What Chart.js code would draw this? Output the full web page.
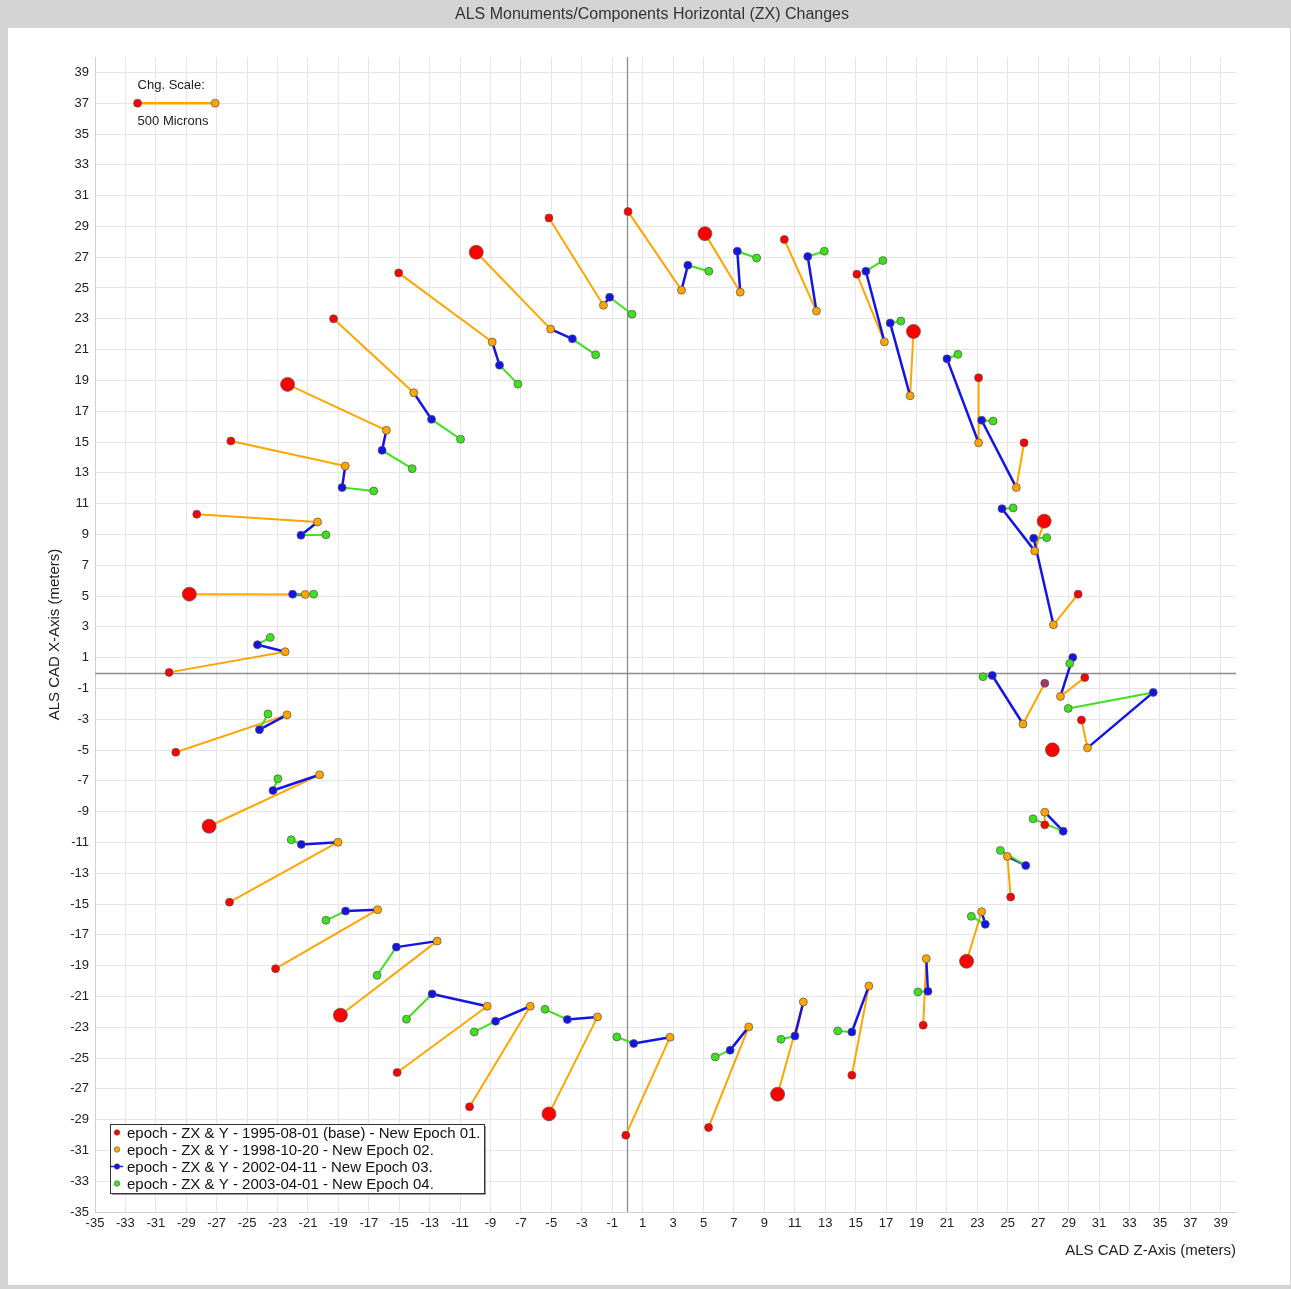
<!DOCTYPE html>
<html>
<head>
<meta charset="utf-8">
<title>ALS Monuments/Components Horizontal (ZX) Changes</title>
<script src="https://cdn.jsdelivr.net/npm/chart.js@4.4.0/dist/chart.umd.min.js"></script>
<style>
  html, body { margin: 0; padding: 0; background: #d4d4d4; }
  #wrap { position: relative; width: 1291px; height: 1289px; }
</style>
</head>
<body>
<div id="wrap"><canvas id="zxChart" width="1291" height="1289"></canvas></div>
<script>
// ======================== DATA ========================
// each entry = [Z (m), X (m)], one row per monument, same order in every epoch

const epoch01 = [
  [-30.13, 0.04], [-28.80, 5.12], [-28.31, 10.31], [-26.07, 15.06], [-22.34, 18.74],
  [-19.32, 23.00], [-15.04, 25.98], [-9.94, 27.32], [-5.16, 29.55], [0.04, 29.96],
  [5.09, 28.53], [10.31, 28.15], [15.08, 25.90], [18.80, 22.18], [23.08, 19.17],
  [26.07, 14.95], [27.39, 9.86], [29.62, 5.12], [30.06, -0.30], [27.43, -0.67],
  [29.84, -3.05], [27.93, -4.99], [27.43, -9.86], [25.19, -14.55], [22.29, -18.72],
  [19.44, -22.87], [14.75, -26.12], [9.87, -27.35], [5.33, -29.51], [-0.11, -30.01],
  [-5.16, -28.63], [-10.38, -28.17], [-15.14, -25.94], [-18.87, -22.22], [-23.13, -19.20],
  [-26.16, -14.88], [-27.50, -9.95], [-29.69, -5.15]
];

const epoch02 = [
  [-22.50, 1.38], [-21.18, 5.10], [-20.37, 9.81], [-18.55, 13.44], [-15.85, 15.76],
  [-14.05, 18.20], [-8.89, 21.49], [-5.05, 22.33], [-1.58, 23.88], [3.55, 24.86],
  [7.41, 24.73], [12.42, 23.50], [16.89, 21.50], [18.58, 18.00], [23.08, 14.95],
  [25.56, 12.04], [26.77, 7.93], [28.00, 3.13], [28.46, -1.52], [26.00, -3.31],
  [30.24, -4.86], null, [27.43, -9.04], [24.97, -11.91], [23.28, -15.50],
  [19.64, -18.55], [15.87, -20.32], [11.56, -21.36], [7.97, -22.98], [2.80, -23.65],
  [-1.97, -22.33], [-6.39, -21.64], [-9.22, -21.64], [-12.51, -17.41], [-16.42, -15.37],
  [-19.03, -10.99], [-20.24, -6.61], [-22.38, -2.72]
];

const epoch03 = [
  [-24.32, 1.84], [-22.01, 5.12], [-21.46, 8.95], [-18.76, 12.04], [-16.13, 14.46],
  [-12.88, 16.47], [-8.41, 19.99], [-3.62, 21.70], [-1.17, 24.40], [3.97, 26.48],
  [7.22, 27.39], [11.85, 27.04], [15.67, 26.09], [17.27, 22.72], [21.00, 20.40],
  [23.28, 16.41], [24.62, 10.67], [26.70, 8.75], [29.27, 1.01], [23.98, -0.16],
  [34.56, -1.26], null, [28.64, -10.27], [26.18, -12.50], [23.52, -16.32],
  [19.75, -20.67], [14.75, -23.31], [11.01, -23.57], [6.75, -24.49], [0.41, -24.06],
  [-3.95, -22.50], [-8.67, -22.61], [-12.84, -20.84], [-15.19, -17.80], [-18.53, -15.46],
  [-21.44, -11.13], [-23.30, -7.63], [-24.19, -3.68]
];

const epoch04 = [
  [-23.48, 2.31], [-20.63, 5.12], [-19.82, 8.97], [-16.68, 11.82], [-14.15, 13.27],
  [-10.97, 15.18], [-7.20, 18.76], [-2.09, 20.66], [0.30, 23.30], [5.35, 26.09],
  [8.49, 26.95], [12.94, 27.39], [16.79, 26.78], [17.97, 22.85], [21.72, 20.69],
  [24.03, 16.36], [25.35, 10.72], [27.56, 8.79], [29.07, 0.62], [23.37, -0.24],
  [28.97, -2.30], null, [26.66, -9.47], [24.51, -11.52], [22.60, -15.80],
  [19.09, -20.71], [13.82, -23.24], [10.09, -23.78], [5.77, -24.93], [-0.70, -23.63],
  [-5.42, -21.84], [-10.07, -23.31], [-14.53, -22.48], [-16.46, -19.63], [-19.82, -16.06],
  [-22.10, -10.83], [-22.98, -6.87], [-23.63, -2.66]
];

// monuments drawn with the large base marker
const majorMonuments = [1, 4, 7, 10, 13, 16, 21, 24, 27, 30, 33, 36];
// base marker partly hidden (shows darker)
const shadedBase = [19];

// change scale key (top left)
const scaleBar = [[-32.2, 37], [-27.1, 37]];
const scaleLabels = ["Chg. Scale:", "500 Microns"];

const zTicks = [-35, -33, -31, -29, -27, -25, -23, -21, -19, -17, -15, -13, -11, -9, -7, -5, -3, -1,
  1, 3, 5, 7, 9, 11, 13, 15, 17, 19, 21, 23, 25, 27, 29, 31, 33, 35, 37, 39];
const xTicks = [-35, -33, -31, -29, -27, -25, -23, -21, -19, -17, -15, -13, -11, -9, -7, -5, -3, -1,
  1, 3, 5, 7, 9, 11, 13, 15, 17, 19, 21, 23, 25, 27, 29, 31, 33, 35, 37, 39];

const legendLabels = [
  "epoch - ZX & Y - 1995-08-01 (base) - New Epoch 01.",
  "epoch - ZX & Y - 1998-10-20 - New Epoch 02.",
  "epoch - ZX & Y - 2002-04-11 - New Epoch 03.",
  "epoch - ZX & Y - 2003-04-01 - New Epoch 04."
];

const chartTitle = "ALS Monuments/Components Horizontal (ZX) Changes";

// ======================== STYLE ========================

const FONT = "'Liberation Sans', Arial, sans-serif";
const RED = "#ff0000";
const ORANGE = "#ffa500";
const BLUE = "#1414e6";
const GREEN = "#3fe01e";
const EDGE = "#555555";

// ======================== HELPERS ========================

function toPoints(arr) {
  return arr.map((p) => (p ? { x: p[0], y: p[1] } : { x: null, y: null }));
}

// pairs of points split by gaps, so one dataset draws many short segments
function segments(from, to) {
  const pts = [];
  from.forEach((p, i) => {
    const q = to[i];
    if (!p || !q) return;
    pts.push({ x: p[0], y: p[1] }, { x: q[0], y: q[1] }, { x: null, y: null });
  });
  return pts;
}

// ======================== PLUGINS ========================

const framePlugin = {
  id: "frame",
  beforeDraw(chart) {
    const { ctx, width, height } = chart;
    ctx.save();
    ctx.fillStyle = "#d4d4d4";
    ctx.fillRect(0, 0, width, height);
    ctx.fillStyle = "#ffffff";
    ctx.fillRect(8, 28, width - 9, height - 32);
    ctx.fillStyle = "#333333";
    ctx.font = "16px " + FONT;
    ctx.textAlign = "center";
    ctx.textBaseline = "middle";
    ctx.fillText(chartTitle, 652, 15);
    ctx.restore();
  },
  beforeDatasetsDraw(chart) {
    // zero lines
    const { ctx, chartArea, scales } = chart;
    const px = Math.round(scales.x.getPixelForValue(0)) + 0.5;
    const py = Math.round(scales.y.getPixelForValue(0)) + 0.5;
    ctx.save();
    ctx.strokeStyle = "#8c8c8c";
    ctx.lineWidth = 1.3;
    ctx.beginPath();
    ctx.moveTo(px, chartArea.top);
    ctx.lineTo(px, chartArea.bottom);
    ctx.moveTo(chartArea.left, py);
    ctx.lineTo(chartArea.right, py);
    ctx.stroke();
    ctx.restore();
  },
  afterDraw(chart) {
    const { ctx, chartArea, scales } = chart;
    ctx.save();

    // scale key texts
    const sx = scales.x.getPixelForValue(scaleBar[0][0]);
    const sy = scales.y.getPixelForValue(scaleBar[0][1]);
    ctx.fillStyle = "#222";
    ctx.font = "13px " + FONT;
    ctx.textAlign = "left";
    ctx.textBaseline = "middle";
    ctx.fillText(scaleLabels[0], sx, sy - 18);
    ctx.fillText(scaleLabels[1], sx, sy + 18);

    // legend box
    const bx = chartArea.left + 15;
    const by = chartArea.bottom - 88;
    const bw = 374;
    const bh = 69;
    ctx.fillStyle = "#9a9a9a";
    ctx.fillRect(bx + 2, by + 2, bw, bh);
    ctx.fillStyle = "#ffffff";
    ctx.fillRect(bx, by, bw, bh);
    ctx.strokeStyle = "#333";
    ctx.lineWidth = 1;
    ctx.strokeRect(bx + 0.5, by + 0.5, bw, bh);

    const colors = [RED, ORANGE, BLUE, GREEN];
    ctx.font = "15px " + FONT;
    legendLabels.forEach((txt, i) => {
      const cy = by + 8.5 + i * 17;
      const mx = bx + 7;
      if (i === 2) {
        ctx.strokeStyle = BLUE;
        ctx.lineWidth = 1.5;
        ctx.beginPath();
        ctx.moveTo(mx - 6, cy);
        ctx.lineTo(mx + 6, cy);
        ctx.stroke();
      }
      ctx.beginPath();
      ctx.arc(mx, cy, 2.8, 0, Math.PI * 2);
      ctx.fillStyle = colors[i];
      ctx.fill();
      ctx.strokeStyle = EDGE;
      ctx.lineWidth = 0.6;
      ctx.stroke();
      ctx.fillStyle = "#111";
      ctx.fillText(txt, bx + 17, cy + 1);
    });

    ctx.restore();
  }
};

// ======================== CHART ========================

function buildChart() {
  const ctx = document.getElementById("zxChart").getContext("2d");

  new Chart(ctx, {
    type: "scatter",
    data: {
      datasets: [
        {
          label: "Epoch 04",
          data: toPoints(epoch04),
          backgroundColor: GREEN,
          borderColor: EDGE,
          borderWidth: 0.7,
          pointRadius: 4,
          order: 1
        },
        {
          label: "Epoch 03",
          data: toPoints(epoch03),
          backgroundColor: BLUE,
          borderColor: EDGE,
          borderWidth: 0.7,
          pointRadius: 4,
          order: 2
        },
        {
          label: "Epoch 02",
          data: toPoints(epoch02),
          backgroundColor: ORANGE,
          borderColor: EDGE,
          borderWidth: 0.7,
          pointRadius: 4,
          order: 3
        },
        {
          label: "Epoch 01",
          data: toPoints(epoch01),
          backgroundColor: (c) => (shadedBase.includes(c.dataIndex) ? "#a8346a" : RED),
          borderColor: EDGE,
          borderWidth: 0.7,
          pointRadius: (c) => (majorMonuments.includes(c.dataIndex) ? 7 : 4),
          order: 4
        },
        {
          label: "scale",
          data: toPoints(scaleBar),
          showLine: true,
          borderColor: ORANGE,
          borderWidth: 2.5,
          pointBackgroundColor: [RED, ORANGE],
          pointBorderColor: EDGE,
          pointBorderWidth: 0.7,
          pointRadius: 4,
          order: 4
        },
        {
          label: "03-04",
          data: segments(epoch03, epoch04),
          showLine: true,
          borderColor: GREEN,
          borderWidth: 2,
          pointRadius: 0,
          order: 5
        },
        {
          label: "02-03",
          data: segments(epoch02, epoch03),
          showLine: true,
          borderColor: BLUE,
          borderWidth: 2.5,
          pointRadius: 0,
          order: 6
        },
        {
          label: "01-02",
          data: segments(epoch01, epoch02),
          showLine: true,
          borderColor: ORANGE,
          borderWidth: 2,
          pointRadius: 0,
          order: 7
        }
      ]
    },
    options: {
      responsive: false,
      animation: false,
      events: [],
      layout: { padding: { left: 44, right: 55, top: 57, bottom: 20 } },
      plugins: {
        legend: { display: false },
        tooltip: { enabled: false },
        title: { display: false }
      },
      scales: {
        x: {
          type: "linear",
          position: "bottom",
          min: -35,
          max: 40,
          afterBuildTicks: (s) => { s.ticks = zTicks.map((v) => ({ value: v })); },
          afterFit: (s) => { s.height = 57; },
          grid: { color: "#e6e6e6", drawTicks: false },
          border: { color: "#d0d0d0" },
          ticks: { autoSkip: false, maxRotation: 0, padding: 4, color: "#222", font: { family: FONT, size: 13 } },
          title: {
            display: true,
            text: "ALS CAD Z-Axis (meters)",
            align: "end",
            color: "#222",
            font: { family: FONT, size: 15 },
            padding: { top: 4, bottom: 9 }
          }
        },
        y: {
          type: "linear",
          position: "left",
          min: -35,
          max: 40,
          afterBuildTicks: (s) => { s.ticks = xTicks.map((v) => ({ value: v })); },
          afterFit: (s) => { s.width = 51; },
          grid: { color: "#e6e6e6", drawTicks: false },
          border: { color: "#d0d0d0" },
          ticks: { autoSkip: false, padding: 6, color: "#222", font: { family: FONT, size: 13 } },
          title: {
            display: true,
            text: "ALS CAD X-Axis (meters)",
            color: "#222",
            font: { family: FONT, size: 15 },
            padding: { top: 2, bottom: 0 }
          }
        }
      }
    },
    plugins: [framePlugin]
  });
}

document.addEventListener("DOMContentLoaded", buildChart);
</script>
</body>
</html>
